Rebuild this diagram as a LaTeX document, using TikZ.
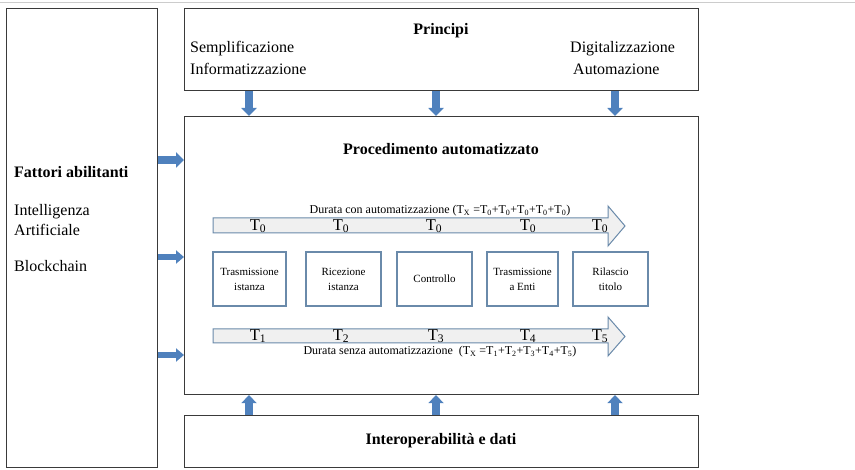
\documentclass[tikz,border=0pt]{standalone}
\usepackage{fontspec}
\setmainfont{Liberation Serif}
\usetikzlibrary{arrows.meta,calc}
\definecolor{arrblue}{HTML}{4F81BD}
\definecolor{boxedge}{HTML}{6A8AAA}
\definecolor{tlfill}{HTML}{F0F0F0}
\definecolor{frame}{HTML}{3A3A3A}
\tikzset{
  bigbox/.style={draw=frame,line width=1.1pt,fill=white},
  stepbox/.style={draw=boxedge,line width=1.1pt,minimum width=73pt,minimum height=54pt,align=center,inner sep=1pt,font=\fontsize{11}{15}\selectfont},
  barrow/.style={draw=arrblue,line width=7.5pt,-{Triangle[width=15pt,length=8pt]}},
  sarrow/.style={draw=arrblue,line width=5.5pt,-{Triangle[width=13pt,length=8pt]}},
  big/.style={font=\fontsize{16}{20}\selectfont},
  bigb/.style={font=\fontsize{16}{20}\selectfont\bfseries},
  tl/.style={font=\fontsize{16.5}{18}\selectfont,inner sep=0pt},
  tltitle/.style={font=\fontsize{12}{14}\selectfont,inner sep=0pt},
}
\begin{document}
\begin{tikzpicture}[x=1pt,y=-1pt]
\useasboundingbox (0,0) rectangle (855,470);
\draw[color=black!20,line width=1.5pt] (0,2.5) -- (855,2.5);
% main boxes
\node[bigbox,minimum width=151pt,minimum height=459pt,anchor=north west,inner sep=0pt] (fat) at (6,8) {};
\node[bigbox,minimum width=514pt,minimum height=82pt,anchor=north west,inner sep=0pt] (pri) at (184,8) {};
\node[bigbox,minimum width=514pt,minimum height=278pt,anchor=north west,inner sep=0pt] (proc) at (184,116) {};
\node[bigbox,minimum width=514pt,minimum height=52pt,anchor=north west,inner sep=0pt] (int) at (184,415) {};
% texts
\node[bigb,inner sep=0pt] (tpri) at (441,31) {Principi};
\node[big,inner sep=0pt,anchor=west] (sem) at (190,49) {Semplificazione};
\node[big,inner sep=0pt,anchor=west] (inf) at (190,69) {Informatizzazione};
\node[big,inner sep=0pt,anchor=west] (dig) at (570,49) {Digitalizzazione};
\node[big,inner sep=0pt,anchor=west] (aut) at (573,69) {Automazione};
\node[bigb,inner sep=0pt] (tproc) at (441,149) {Procedimento automatizzato};
\node[bigb,inner sep=0pt] (tint) at (441,441) {Interoperabilità e dati};
\node[bigb,inner sep=0pt,anchor=west] (tfat) at (14,172) {Fattori abilitanti};
\node[big,inner sep=0pt,anchor=west] (ia1) at (14,212) {Intelligenza};
\node[big,inner sep=0pt,anchor=west] (ia2) at (14,230) {Artificiale};
\node[big,inner sep=0pt,anchor=west] (blk) at (14,266) {Blockchain};
% arrow x positions
\coordinate (ax1) at (249,0);
\coordinate (ax2) at (436,0);
\coordinate (ax3) at (615,0);
\coordinate (ay1) at (0,160);
\coordinate (ay2) at (0,257);
\coordinate (ay3) at (0,355);
\draw[barrow] (pri.south -| ax1) -- (proc.north -| ax1);
\draw[barrow] (pri.south -| ax2) -- (proc.north -| ax2);
\draw[barrow] (pri.south -| ax3) -- (proc.north -| ax3);
\draw[barrow] (int.north -| ax1) -- (proc.south -| ax1);
\draw[barrow] (int.north -| ax2) -- (proc.south -| ax2);
\draw[barrow] (int.north -| ax3) -- (proc.south -| ax3);
\draw[barrow] (fat.east |- ay1) -- (proc.west |- ay1);
\draw[sarrow] (fat.east |- ay2) -- (proc.west |- ay2);
\draw[sarrow] (fat.east |- ay3) -- (proc.west |- ay3);
% timelines
\draw[draw=boxedge,fill=tlfill,line width=1pt,line join=miter]
  (213,218) -- (608,218) -- (608,206) -- (625,226) -- (608,246) -- (608,233) -- (213,233) -- cycle;
\draw[draw=boxedge,fill=tlfill,line width=1pt,line join=miter]
  (213,329) -- (608,329) -- (608,317) -- (625,336.5) -- (608,356) -- (608,343) -- (213,343) -- cycle;
\node[tltitle] (d1) at (440,211) {Durata con automatizzazione (T\textsubscript{X} =T\textsubscript{0}+T\textsubscript{0}+T\textsubscript{0}+T\textsubscript{0}+T\textsubscript{0})};
\node[tltitle] (d2) at (440,352) {Durata senza automatizzazione\ \ (T\textsubscript{X} =T\textsubscript{1}+T\textsubscript{2}+T\textsubscript{3}+T\textsubscript{4}+T\textsubscript{5})};
\node[tl] (a1) at (258,226) {T\textsubscript{0}};
\node[tl] (a2) at (341,226) {T\textsubscript{0}};
\node[tl] (a3) at (434,226) {T\textsubscript{0}};
\node[tl] (a4) at (528,226) {T\textsubscript{0}};
\node[tl] (a5) at (600,226) {T\textsubscript{0}};
\node[tl] (b1) at (258,336) {T\textsubscript{1}};
\node[tl] (b2) at (341,336) {T\textsubscript{2}};
\node[tl] (b3) at (436,336) {T\textsubscript{3}};
\node[tl] (b4) at (528,336) {T\textsubscript{4}};
\node[tl] (b5) at (600,336) {T\textsubscript{5}};
% steps
\node[stepbox] (s1) at (249.5,279) {Trasmissione\\istanza};
\node[stepbox,minimum width=75pt] (s2) at (343.5,279) {Ricezione\\istanza};
\node[stepbox,minimum width=75pt] (s3) at (434.5,279) {Controllo};
\node[stepbox,minimum width=71pt] (s4) at (522.5,279) {Trasmissione\\a Enti};
\node[stepbox,minimum width=75pt] (s5) at (610.5,279) {Rilascio\\titolo};
\end{tikzpicture}
\end{document}
